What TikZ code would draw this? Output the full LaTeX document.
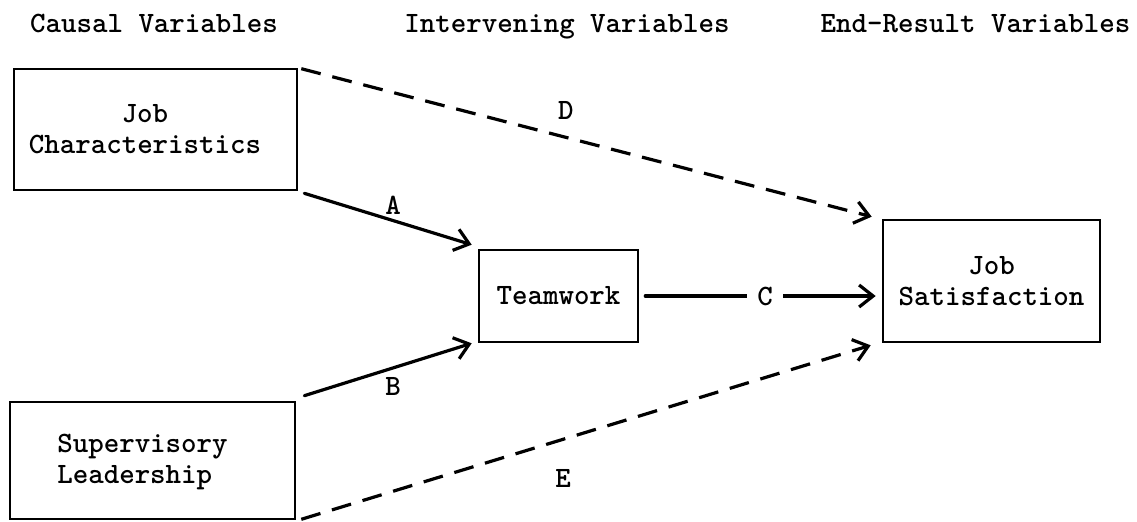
\documentclass[tikz,border=0pt]{standalone}
\usepackage{fontspec}
\usetikzlibrary{arrows.meta}
\tikzset{
  txt/.style={font=\ttfamily\bfseries\fontsize{14.76}{15.5}\selectfont, inner sep=0pt, align=center},
  hdr/.style={txt, anchor=base},
  boxnode/.style={draw, line width=1.3pt, inner sep=0pt},
  conn/.style={line width=1.6pt, line cap=round, -{Straight Barb[length=7pt,width=11pt,line width=1.6pt]}},
  dconn/.style={conn, dash pattern=on 10pt off 6pt, line cap=butt},
  lbl/.style={font=\ttfamily\bfseries\fontsize{14.76}{15.5}\selectfont, inner sep=0pt}
}
\begin{document}
\begin{tikzpicture}[x=0.5pt,y=-0.5pt]
\useasboundingbox (0,0) rectangle (1137,521);
% headers
\node[hdr] (h1) at (154,32) {Causal Variables};
\node[hdr] (h2) at (567,32) {Intervening Variables};
\node[hdr] (h3) at (975.5,32) {End-Result Variables};
% boxes
\node[boxnode, minimum width=141.5pt, minimum height=60.5pt] (jc) at (155.5,129.5) {};
\node[txt] (jct) at (145,129) {Job\\Characteristics};
\node[boxnode, minimum width=142.5pt, minimum height=58.5pt] (sl) at (152.5,460.5) {};
\node[txt, align=left] (slt) at (142.5,462) {Supervisory\\Leadership};
\node[boxnode, txt, minimum width=79.5pt, minimum height=46pt] (tw) at (558.5,296) {Teamwork};
\node[boxnode, txt, minimum width=108.5pt, minimum height=61pt] (js) at (991.5,281) {Job\\Satisfaction};
% connectors
\draw[conn] ([shift={(6,2)}]jc.south east) -- node[lbl, pos=0.53, yshift=7.5pt] (la) {A} ([shift={(-6,-4)}]tw.north west);
\draw[conn] ([shift={(8,-5)}]sl.north east) -- node[lbl, pos=0.53, yshift=-9.5pt] (lb) {B} ([shift={(-6,0)}]tw.south west);
\draw[conn] ([xshift=3]tw.east) -- node[lbl, pos=0.52, fill=white, inner xsep=5pt] (lc) {C} ([xshift=-3]tw.east -| js.west);
\draw[dconn] ([shift={(3,1)}]jc.north east) -- node[lbl, pos=0.464, yshift=13.5pt] (ld) {D} ([shift={(-10,-2)}]js.north west);
\draw[dconn] ([shift={(5,-1)}]sl.south east) -- node[lbl, pos=0.46, yshift=-19.5pt] (le) {E} ([shift={(-11,2)}]js.south west);
\end{tikzpicture}
\end{document}
